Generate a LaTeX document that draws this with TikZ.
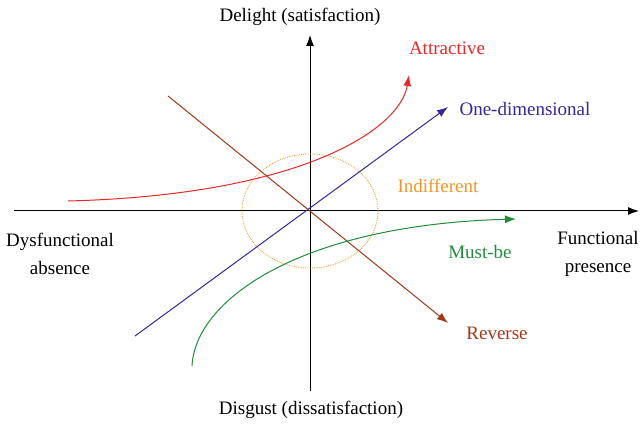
\documentclass[tikz,border=0pt]{standalone}
\usepackage{fontspec}
\setmainfont{Liberation Serif}
\usetikzlibrary{arrows.meta}
\definecolor{cred}{RGB}{232,40,40}
\definecolor{cblue}{RGB}{52,40,150}
\definecolor{cbrown}{RGB}{160,56,24}
\definecolor{cgreen}{RGB}{34,140,60}
\definecolor{corange}{RGB}{240,150,40}
\tikzset{
  tip/.style={-{Latex[length=11pt,width=8pt]}},
  lbl/.style={font=\fontsize{19}{28}\selectfont, inner sep=0pt, align=center},
  curve/.style={line width=1pt, tip}
}
\begin{document}
\begin{tikzpicture}[x=1pt,y=-1pt]
\useasboundingbox (0,0) rectangle (642,427);
% axes
\coordinate (O) at (310,211);
\coordinate (xl) at (14,211);
\coordinate (xr) at (639,211);
\coordinate (yb) at (310,391);
\coordinate (yt) at (310,35);
\draw[line width=1pt, tip] (xl) -- (xr);
\draw[line width=1pt, tip] (yb) -- (yt);
% indifferent ellipse
\draw[corange, densely dotted, line width=0.8pt] (O) ellipse [x radius=68, y radius=57];
% curves
\coordinate (r0) at (68,201);
\coordinate (r1) at (409,75);
\draw[cred, curve] (r0) .. controls (300,195) and (400,130) .. (r1);
\coordinate (b0) at (135,336);
\coordinate (b1) at (448,107);
\draw[cblue, curve] (b0) -- (b1);
\coordinate (br0) at (168,96);
\coordinate (br1) at (448,323);
\draw[cbrown, curve] (br0) -- (br1);
\coordinate (g0) at (192,366);
\coordinate (g1) at (516,219);
\draw[cgreen, curve] (g0) .. controls (195,300) and (300,225) .. (g1);
% labels
\node[lbl] (delight) at (300,17) {Delight (satisfaction)};
\node[lbl] (disgust) at (311,410) {Disgust (dissatisfaction)};
\node[lbl] (dys) at (60,254) {Dysfunctional\\absence};
\node[lbl] (fun) at (598,254) {Functional\\presence};
\node[lbl, text=cred] (attr) at (447,48) {Attractive};
\node[lbl, text=cblue] (one) at (525,109) {One-dimensional};
\node[lbl, text=corange] (ind) at (438,186) {Indifferent};
\node[lbl, text=cgreen] (must) at (480,252) {Must-be};
\node[lbl, text=cbrown] (rev) at (497,333) {Reverse};
\end{tikzpicture}
\end{document}
